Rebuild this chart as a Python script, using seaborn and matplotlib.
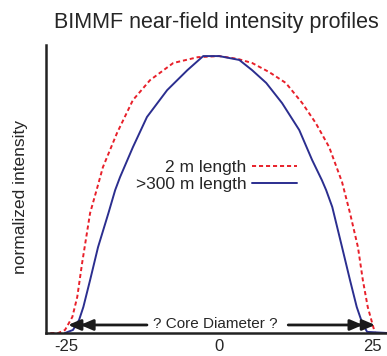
import numpy as np
import pandas as pd
import seaborn as sns
import matplotlib.pyplot as plt

# profile: position (microns) vs normalized intensity
short_x = [-27.6, -26.3, -25.2, -24.0, -23.2, -22.4, -21.1, -19.9, -19.0, -16.7, -14.1, -11.3,
           -7.5, -3.5, 0.0, 3.0, 5.4, 8.2, 10.9, 13.6, 15.8, 18.0, 20.1, 21.4, 22.7, 23.5,
           24.3, 25.2, 25.5]
short_y = [0.0, 0.0, 0.011, 0.058, 0.130, 0.253, 0.433, 0.527, 0.599, 0.722, 0.841, 0.913,
           0.975, 0.996, 1.0, 0.990, 0.975, 0.942, 0.903, 0.830, 0.758, 0.671, 0.545, 0.433,
           0.310, 0.191, 0.094, 0.022, 0.0]

long_x = [-25.2, -23.9, -22.9, -22.2, -21.1, -19.8, -18.1, -17.0, -16.2, -14.1, -11.8, -8.5,
          -5.2, -2.6, 0.0, 3.3, 5.4, 7.7, 10.3, 13.1, 15.2, 16.8, 17.5, 18.5, 20.1, 21.4,
          22.5, 23.4, 24.2, 27.5]
long_y = [0.0, 0.011, 0.047, 0.094, 0.191, 0.310, 0.433, 0.516, 0.563, 0.671, 0.780, 0.877,
          0.949, 1.0, 1.0, 0.986, 0.949, 0.903, 0.830, 0.733, 0.625, 0.552, 0.516, 0.455,
          0.310, 0.191, 0.094, 0.036, 0.004, 0.0]

x_ticks = [-25, 0, 25]

# where the arrows point: edges of each profile, left and right
edge_short = [-24.7, 25.5]
edge_long = [-22.7, 23.5]

sns.set_style("white")
plt.rcParams["font.family"] = ["Liberation Sans", "DejaVu Sans"]

fig = plt.figure(figsize=(3.87, 3.56), dpi=100)
ax = fig.add_axes([0.119, 0.0646, 0.881, 0.809])

sns.lineplot(x=short_x, y=short_y, ax=ax, color="#e8202a", linestyle=(0, (2.1, 1.5)),
             linewidth=1.4, label="2 m length")
sns.lineplot(x=long_x, y=long_y, ax=ax, color="#2b2e8f", linewidth=1.4,
             label=">300 m length")

ax.set_xlim(-28.3, 27.45)
ax.set_ylim(0, 1.04)
ax.set_xticks(x_ticks)
ax.set_xticklabels([str(t) for t in x_ticks], fontsize=12)
ax.set_yticks([])
ax.tick_params(axis="x", direction="out", length=3, width=1.2, color="#222222", pad=1.5)
ax.set_ylabel("normalized intensity", fontsize=12.5)
ax.yaxis.set_label_coords(-0.053, 0.472)
ax.set_title("BIMMF near-field intensity profiles", fontsize=15.5, pad=12)

sns.despine(ax=ax)
for side in ["left", "bottom"]:
    ax.spines[side].set_color("#222222")
    ax.spines[side].set_linewidth(1.8)

# core diameter arrows, two heads on each side
arrow_y = 0.029
head = dict(arrowstyle="-|>,head_length=0.75,head_width=0.32", color="#1a1a1a", lw=2,
            mutation_scale=10, shrinkA=0, shrinkB=0)
ax.annotate("", xy=(edge_long[0], arrow_y), xytext=(-11.8, arrow_y), arrowprops=head)
ax.annotate("", xy=(edge_short[0], arrow_y), xytext=(edge_long[0] + 0.5, arrow_y), arrowprops=head)
ax.annotate("", xy=(edge_long[1], arrow_y), xytext=(11.3, arrow_y), arrowprops=head)
ax.annotate("", xy=(edge_short[1], arrow_y), xytext=(edge_long[1] - 0.5, arrow_y), arrowprops=head)
ax.text(-0.7, 0.018, "? Core Diameter ?", ha="center", va="baseline", fontsize=11)

ax.legend(loc="center", bbox_to_anchor=(0.50, 0.545), frameon=False, markerfirst=False,
          fontsize=12.5, handlelength=2.6, labelspacing=0.15, handletextpad=0.3)

fig.savefig("out.png", dpi=100)
